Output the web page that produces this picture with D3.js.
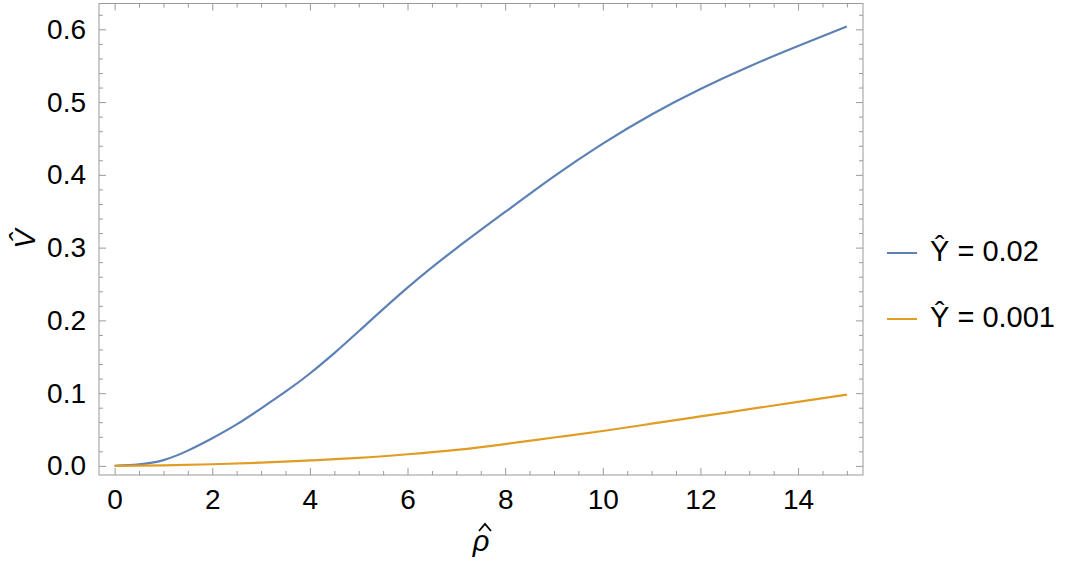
<!DOCTYPE html>
<html>
<head>
<meta charset="utf-8">
<script src="https://cdn.jsdelivr.net/npm/d3@7"></script>
<style>
  body { margin: 0; background: #fff; }
  text { font-family: "Liberation Sans", Arial, sans-serif; }
</style>
</head>
<body>
<svg id="chart"></svg>
<script>
// values
const rhoBlue = [0, 0.5, 1, 1.5, 2, 2.5, 3, 3.5, 4, 4.5, 5, 6, 7, 8, 9, 10, 11, 12, 13, 14, 15];
const vBlue   = [0, 0.002, 0.008, 0.021, 0.038, 0.057, 0.079, 0.102, 0.127, 0.155, 0.185, 0.245, 0.299, 0.349, 0.398, 0.443, 0.483, 0.518, 0.549, 0.577, 0.604];
const rhoOrange = [0, 1, 2, 3, 4, 5, 6, 7, 8, 9, 10, 11, 12, 13, 14, 15];
const vOrange   = [0, 0.0006, 0.0023, 0.0045, 0.0075, 0.011, 0.016, 0.022, 0.030, 0.039, 0.048, 0.058, 0.068, 0.078, 0.088, 0.098];
const xTicks = [0, 2, 4, 6, 8, 10, 12, 14];
const yTicks = [0, 0.1, 0.2, 0.3, 0.4, 0.5, 0.6];
const seriesNames = ['\u0176 = 0.02', '\u0176 = 0.001'];
const colors = ['#5E81B5', '#E19C24'];

const width = 1075, height = 563;
const frame = {left: 99, right: 863, top: 3.5, bottom: 475};
const fontSize = '28px';

const svg = d3.select('#chart')
  .attr('width', width)
  .attr('height', height);

const x = d3.scaleLinear()
  .domain([-0.32, 15.33])
  .range([frame.left, frame.right]);

const y = d3.scaleLinear()
  .domain([-0.0125, 0.6355])
  .range([frame.bottom, frame.top]);

const xMinor = d3.range(0, 15.01, 0.5).filter(v => !xTicks.includes(v));
const yMinor = d3.range(0, 0.63, 0.02).map(v => +v.toFixed(2)).filter(v => !yTicks.some(t => Math.abs(t - v) < 1e-9));

function styleAxis(g) {
  g.select('.domain').remove();
  g.attr('font-size', null).attr('font-family', null);
  g.selectAll('line').attr('stroke', '#9a9a9a');
  g.selectAll('text').attr('fill', '#000').style('font-size', fontSize);
}

// bottom
svg.append('g')
  .attr('transform', `translate(0,${frame.bottom})`)
  .call(d3.axisBottom(x).tickValues(xTicks).tickSize(-7).tickPadding(14).tickFormat(d3.format('d')))
  .call(styleAxis);
svg.append('g')
  .attr('transform', `translate(0,${frame.bottom})`)
  .call(d3.axisBottom(x).tickValues(xMinor).tickSize(-4).tickFormat(''))
  .call(styleAxis);
// top (mirror)
svg.append('g')
  .attr('transform', `translate(0,${frame.top})`)
  .call(d3.axisTop(x).tickValues(xTicks).tickSize(-7).tickFormat(''))
  .call(styleAxis);
svg.append('g')
  .attr('transform', `translate(0,${frame.top})`)
  .call(d3.axisTop(x).tickValues(xMinor).tickSize(-4).tickFormat(''))
  .call(styleAxis);
// left
svg.append('g')
  .attr('transform', `translate(${frame.left},0)`)
  .call(d3.axisLeft(y).tickValues(yTicks).tickSize(-7).tickPadding(13).tickFormat(d3.format('.1f')))
  .call(styleAxis);
svg.append('g')
  .attr('transform', `translate(${frame.left},0)`)
  .call(d3.axisLeft(y).tickValues(yMinor).tickSize(-4).tickFormat(''))
  .call(styleAxis);
// right (mirror)
svg.append('g')
  .attr('transform', `translate(${frame.right},0)`)
  .call(d3.axisRight(y).tickValues(yTicks).tickSize(-7).tickFormat(''))
  .call(styleAxis);
svg.append('g')
  .attr('transform', `translate(${frame.right},0)`)
  .call(d3.axisRight(y).tickValues(yMinor).tickSize(-4).tickFormat(''))
  .call(styleAxis);

// frame
svg.append('rect')
  .attr('x', frame.left)
  .attr('y', frame.top)
  .attr('width', frame.right - frame.left)
  .attr('height', frame.bottom - frame.top)
  .attr('fill', 'none')
  .attr('stroke', '#9a9a9a')
  .attr('stroke-width', 1);

const line = d3.line()
  .x(d => x(d[0]))
  .y(d => y(d[1]))
  .curve(d3.curveNatural);

const series = [
  d3.zip(rhoBlue, vBlue),
  d3.zip(rhoOrange, vOrange)
];

svg.selectAll('.series')
  .data(series)
  .enter().append('path')
  .attr('class', 'series')
  .attr('d', line)
  .attr('fill', 'none')
  .attr('stroke', (d, i) => colors[i])
  .attr('stroke-width', 2.2);

// axis labels
const cx = (frame.left + frame.right) / 2;
svg.append('text')
  .attr('x', cx)
  .attr('y', 551)
  .attr('text-anchor', 'middle')
  .style('font-size', '29px')
  .style('font-style', 'italic')
  .text('\u03C1');
// circumflex over rho
svg.append('path')
  .attr('d', `M${cx - 2},531 L${cx + 4},524 L${cx + 10},531`)
  .attr('fill', 'none')
  .attr('stroke', '#000')
  .attr('stroke-width', 1.8);

svg.append('text')
  .attr('transform', 'translate(35,239) rotate(-90)')
  .attr('text-anchor', 'middle')
  .style('font-size', '29px')
  .style('font-style', 'italic')
  .text('V\u0302');

// legend
const legend = svg.selectAll('.legend')
  .data(seriesNames)
  .enter().append('g')
  .attr('class', 'legend')
  .attr('transform', (d, i) => `translate(887,${253 + i * 66})`);

legend.append('line')
  .attr('x1', 0).attr('x2', 30)
  .attr('y1', 0).attr('y2', 0)
  .attr('stroke', (d, i) => colors[i])
  .attr('stroke-width', 2);

legend.append('text')
  .attr('x', 43)
  .attr('y', 8)
  .style('font-size', '29px')
  .text(d => d);
</script>
</body>
</html>
